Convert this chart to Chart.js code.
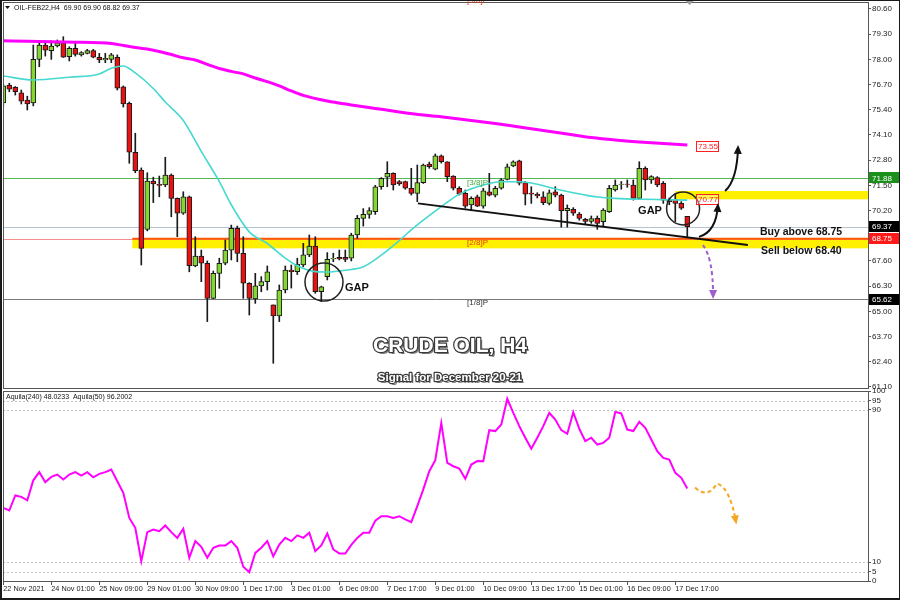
<!DOCTYPE html>
<html>
<head>
<meta charset="utf-8">
<script src="https://cdn.jsdelivr.net/npm/chart.js@4.4.1/dist/chart.umd.min.js"></script>
<style>
  body { margin: 0; background: #fff; }
  #wrap { position: relative; width: 900px; height: 600px; overflow: hidden; background: #fff; }
  #priceCanvas { position: absolute; left: 0; top: 0; }
  #oscCanvas { position: absolute; left: 0; top: 388px; }
  #frame { position: absolute; left: 0; top: 0; width: 900px; height: 600px; box-sizing: border-box;
           border: 2px solid #1a1a1a; border-top-width: 1px; border-right-width: 1px; pointer-events: none; }
</style>
</head>
<body>
<div id="wrap">
  <canvas id="priceCanvas" width="900" height="396"></canvas>
  <canvas id="oscCanvas" width="900" height="212"></canvas>
  <div id="frame"></div>
</div>
<script>
// bottom axis ticks (candle index -> label)
const tickIdx = [0, 8, 16, 24, 32, 40, 48, 56, 64, 72, 80, 88, 96, 104, 112];
const tickLabels = ["22 Nov 2021", "24 Nov 01:00", "25 Nov 09:00", "29 Nov 01:00", "30 Nov 09:00",
  "1 Dec 17:00", "3 Dec 01:00", "6 Dec 09:00", "7 Dec 17:00", "9 Dec 01:00", "10 Dec 09:00",
  "13 Dec 17:00", "15 Dec 01:00", "16 Dec 09:00", "17 Dec 17:00"];
const priceTicks = [61.1, 62.4, 63.7, 65.0, 66.3, 67.6, 68.9, 70.2, 71.5, 72.8, 74.1, 75.4, 76.7, 78.0, 79.3, 80.6];
const oscTicks = [0, 5, 10, 90, 95, 100];
const oscGrid = [5, 10, 90, 95];

// H4 candles
const opens = [75.75,76.68,76.56,76.28,75.90,75.75,78.00,78.74,78.45,78.69,
  78.86,78.14,78.57,78.23,78.31,78.45,78.11,77.97,78.00,78.11,
  76.59,75.73,73.21,72.29,69.23,71.72,71.55,71.52,72.03,70.83,
  70.06,70.91,67.34,67.85,67.48,65.67,66.96,67.48,68.16,69.28,
  67.99,66.45,65.64,66.31,66.53,65.33,64.76,66.10,67.13,67.05,
  67.39,67.91,68.37,66.01,66.79,67.70,67.78,67.78,67.74,68.94,
  69.80,70.00,70.14,71.43,71.92,72.12,71.69,71.69,71.35,71.09,
  71.64,72.60,72.33,73.02,72.72,71.98,71.35,71.09,70.49,70.91,
  70.43,71.17,71.00,71.35,71.81,72.50,72.77,71.64,71.10,71.05,
  70.91,70.57,71.17,71.00,70.19,70.26,70.02,69.75,69.64,69.80,
  69.63,70.14,71.26,71.55,71.57,71.52,70.83,72.38,71.78,71.90,
  71.61,70.74,70.78,70.57,69.90];
const highs = [76.70,76.77,76.60,76.42,76.10,78.74,78.86,78.96,78.96,79.00,
  79.17,78.65,78.91,78.40,78.52,78.52,78.31,78.31,78.31,78.23,
  76.63,75.80,74.19,72.40,72.15,71.92,71.98,72.95,72.09,70.85,
  71.17,70.95,68.85,68.16,67.60,67.08,67.74,68.68,69.45,69.40,
  68.85,66.48,66.96,66.79,67.34,65.33,66.36,67.34,67.39,67.74,
  68.51,68.94,68.85,66.30,68.03,68.00,68.16,68.16,69.03,69.95,
  70.30,70.35,71.50,71.90,72.72,72.15,71.75,71.72,72.38,72.55,
  72.60,72.70,73.12,73.07,72.72,72.00,71.43,71.26,70.91,71.00,
  71.35,72.12,71.45,71.85,72.60,72.77,72.80,71.70,71.43,71.12,
  71.17,71.26,71.43,71.05,70.49,70.35,70.10,69.80,69.92,69.92,
  70.30,71.50,71.78,71.70,71.78,71.78,72.72,72.46,72.00,71.95,
  71.70,70.85,71.09,70.66,69.90];
const lows = [75.60,76.33,76.16,75.70,75.39,75.60,77.62,78.17,78.00,78.64,
  78.10,77.92,78.17,78.17,78.28,78.08,77.83,77.83,77.83,76.42,
  75.54,72.64,72.15,67.39,69.15,70.61,70.91,71.43,69.88,68.85,
  70.00,67.04,67.30,66.53,64.47,65.65,66.19,67.40,67.65,67.56,
  65.67,64.81,65.41,66.01,66.10,62.32,64.47,65.95,66.20,66.90,
  67.30,67.82,65.93,65.50,66.62,67.56,67.65,67.56,67.60,68.77,
  69.40,69.80,70.00,71.30,71.43,71.26,71.50,71.30,71.00,70.66,
  71.60,72.38,72.30,72.65,71.69,71.26,71.00,70.32,70.19,70.40,
  70.32,70.95,70.90,71.30,71.78,72.46,71.52,70.49,70.57,70.85,
  70.50,70.49,70.90,69.34,69.34,69.95,69.70,69.50,69.54,69.23,
  69.40,70.10,71.20,71.30,71.40,70.74,70.83,71.26,71.60,71.43,
  70.57,70.50,69.63,70.26,68.82];
const closes = [76.63,76.46,76.33,75.85,75.70,78.00,78.74,78.48,78.69,78.86,
  78.11,78.57,78.26,78.35,78.45,78.11,77.97,78.06,78.23,76.51,
  75.70,73.21,72.26,68.25,71.72,71.57,71.50,72.03,70.83,70.06,
  70.91,67.35,67.85,67.48,65.67,66.96,67.48,68.16,69.28,67.99,
  66.45,65.67,66.31,66.53,67.04,64.76,66.10,67.13,67.05,67.44,
  67.91,68.37,66.01,66.27,67.68,67.74,67.70,67.68,68.94,69.80,
  70.00,70.20,71.43,71.86,72.12,71.52,71.57,71.35,71.09,71.64,
  72.55,72.46,73.02,72.72,71.95,71.35,71.05,70.43,70.83,70.43,
  71.22,71.00,71.35,71.78,72.46,72.72,71.61,71.05,71.05,70.95,
  70.61,71.12,71.00,70.19,70.32,70.06,69.80,69.64,69.78,69.54,
  70.23,71.35,71.52,71.57,71.55,70.83,72.38,71.78,71.95,71.52,
  70.74,70.66,70.57,70.32,69.37];

// moving averages (candle index, price)
const slowMaX = [0,4,8,12,16,18,20,22,24,26,28,30,32,34,36,38,40,42,44,46,48,50,
  54,58,62,66,70,74,78,82,86,90,94,98,102,106,110,114];
const slowMa = [78.96,78.94,78.91,78.89,78.86,78.82,78.72,78.61,78.54,78.41,78.25,78.08,77.97,77.74,
  77.53,77.38,77.25,77.04,76.85,76.63,76.37,76.14,75.85,75.65,75.47,75.29,75.13,75.00,74.85,
  74.69,74.51,74.33,74.15,73.97,73.84,73.74,73.66,73.58];
const fastMaX = [0,5,11,16,18,20,22,25,27,30,33,36,38,41,44,47,49,52,54,57,60,63,66,68,70,73,76,79,
  83,86,88,93,97,99,102,107,114];
const fastMa = [77.14,76.94,77.08,77.25,77.54,77.66,77.30,76.50,75.80,74.85,73.25,71.70,70.50,69.10,
  68.50,67.75,67.35,67.05,67.03,67.12,67.30,67.90,68.65,69.20,69.70,70.40,71.05,71.43,71.69,
  71.69,71.62,71.25,71.00,70.90,70.83,70.78,70.74];

// oscillator
const aquila = [38.5,37.1,45,44.3,42.5,53,57.3,52,54.8,56,53.4,56,57.3,55.5,57.3,54.6,56.4,57.3,58.7,52.5,
  46.4,33.2,28,10.4,25.7,27.1,26.2,29.2,25.7,22.7,27.5,12.2,21,18,12.2,17.5,18.7,18.7,21,17.5,
  7.5,4.6,14.8,17.5,21,13,19.2,22.7,21,24,22.7,25.4,15.7,18.7,25,16.6,14.5,14.5,19,
  22.7,25.4,25.4,31.8,34.1,34.1,33.2,34.1,32.4,31,39.4,48.2,57.8,63.6,83.2,62.2,60.4,59.2,53.8,
  61.3,63.1,63,79.4,78.9,82.4,95.9,88.5,81.5,75.4,69.6,75.4,81.5,88.5,85,79.4,77.5,88.8,80.1,
  73.6,75.4,71.8,72.7,75.4,89,88.2,79.7,78.9,83.8,80.6,74.5,68.3,64.8,63.9,56.9,54.3,48.7];

// levels and zones
const levelValues = [71.88, 69.37, 68.75, 65.62];
const zoneFrom = [21.5, 112];
const zoneLow = [68.25, 70.78];
const zoneHigh = [68.75, 71.21];

const FONT = '"Liberation Sans", Arial, sans-serif';
Chart.defaults.font.family = FONT;
Chart.defaults.font.size = 8;
Chart.defaults.color = '#222';
Chart.defaults.animation = false;

const X_MIN = -0.05, X_MAX = 144.12;
const GREEN = '#84d630', RED = '#e81212';

function noPad(s) { s.paddingTop = 0; s.paddingBottom = 0; s.paddingLeft = 0; s.paddingRight = 0; }

function arrowHead(ctx, fx, fy, tx, ty, color) {
  const a = Math.atan2(ty - fy, tx - fx);
  ctx.fillStyle = color;
  ctx.beginPath();
  ctx.moveTo(tx + Math.cos(a) * 3, ty + Math.sin(a) * 3);
  ctx.lineTo(tx - Math.cos(a) * 6 + Math.cos(a + Math.PI / 2) * 4, ty - Math.sin(a) * 6 + Math.sin(a + Math.PI / 2) * 4);
  ctx.lineTo(tx - Math.cos(a) * 6 - Math.cos(a + Math.PI / 2) * 4, ty - Math.sin(a) * 6 - Math.sin(a + Math.PI / 2) * 4);
  ctx.closePath();
  ctx.fill();
}

function curveArrow(ctx, p0, c, p1, color, dash, width) {
  ctx.strokeStyle = color;
  ctx.lineWidth = width;
  ctx.setLineDash(dash);
  ctx.beginPath();
  ctx.moveTo(p0[0], p0[1]);
  ctx.quadraticCurveTo(c[0], c[1], p1[0], p1[1]);
  ctx.stroke();
  ctx.setLineDash([]);
  arrowHead(ctx, c[0], c[1], p1[0], p1[1], color);
}

function embossText(ctx, text, cx, cy, font) {
  ctx.font = font;
  ctx.textAlign = 'center';
  ctx.textBaseline = 'middle';
  ctx.fillStyle = 'rgba(0,0,0,0.5)';
  ctx.fillText(text, cx + 2, cy + 2);
  ctx.lineJoin = 'round';
  ctx.lineWidth = 2.5;
  ctx.strokeStyle = '#3a3a3a';
  ctx.strokeText(text, cx, cy);
  ctx.fillStyle = '#fff';
  ctx.fillText(text, cx, cy);
}

function text(ctx, str, px, py, font, color, align) {
  ctx.font = font;
  ctx.fillStyle = color;
  ctx.textAlign = align || 'left';
  ctx.textBaseline = 'middle';
  ctx.fillText(str, px, py);
}

// price panel overlays
const priceOverlay = {
  id: 'priceOverlay',
  beforeDatasetsDraw(chart) {
    const { ctx, chartArea: a, scales: { x, y } } = chart;
    ctx.save();
    ctx.fillStyle = '#fff000';
    zoneFrom.forEach((k, i) => {
      const x0 = Math.max(x.getPixelForValue(k), a.left);
      const y0 = y.getPixelForValue(zoneHigh[i]), y1 = y.getPixelForValue(zoneLow[i]);
      ctx.fillRect(x0, y0, a.right - x0, y1 - y0);
    });
    const lineColors = ['#52b852', '#b9c3cf', '#f59090', '#7a7a7a'];
    levelValues.forEach((v, i) => {
      const py = Math.round(y.getPixelForValue(v)) + 0.5;
      ctx.strokeStyle = lineColors[i];
      ctx.lineWidth = 1;
      ctx.beginPath(); ctx.moveTo(a.left, py); ctx.lineTo(a.right, py); ctx.stroke();
    });
    // orange edge on the lower zone
    const zx = x.getPixelForValue(zoneFrom[0]);
    const zy = y.getPixelForValue(zoneHigh[0]);
    ctx.strokeStyle = '#ff5a00'; ctx.lineWidth = 2;
    ctx.beginPath(); ctx.moveTo(zx, zy); ctx.lineTo(a.right, zy); ctx.stroke();
    ctx.restore();
  },
  afterDraw(chart) {
    const { ctx, chartArea: a, scales: { x, y } } = chart;
    const X = k => x.getPixelForValue(k), Y = p => y.getPixelForValue(p);
    ctx.save();
    ctx.beginPath(); ctx.rect(0, 0, 900, 396); ctx.clip();

    // frame of the panel
    ctx.strokeStyle = '#555'; ctx.lineWidth = 1;
    ctx.strokeRect(a.left + 0.5, a.top + 0.5, a.right - a.left, a.bottom - a.top);

    // header
    ctx.fillStyle = '#111';
    ctx.beginPath(); ctx.moveTo(5, 6); ctx.lineTo(10, 6); ctx.lineTo(7.5, 9); ctx.closePath(); ctx.fill();
    text(ctx, 'OIL-FEB22,H4  69.90 69.90 68.82 69.37', 14, 8, '7px ' + FONT, '#111');

    // gray marker at top
    ctx.fillStyle = '#9a9a9a';
    ctx.beginPath(); ctx.moveTo(X(114.4) - 5, 0); ctx.lineTo(X(114.4) + 5, 0); ctx.lineTo(X(114.4), 5); ctx.closePath(); ctx.fill();

    // murrey labels
    text(ctx, '[5/8]P', X(77.3), Y(81.02), '8px ' + FONT, '#e03a10');
    text(ctx, '[3/8]P', X(77.3), Y(71.62), '8px ' + FONT, '#3aa83a');
    text(ctx, '[2/8]P', X(77.3), Y(68.55), '8px ' + FONT, '#e03a10');
    text(ctx, '[1/8]P', X(77.3), Y(65.45), '8px ' + FONT, '#333');

    // trend line
    ctx.strokeStyle = '#111'; ctx.lineWidth = 2;
    ctx.beginPath(); ctx.moveTo(X(69.1), Y(70.57)); ctx.lineTo(X(124.1), Y(68.42)); ctx.stroke();

    // gap circles
    ctx.strokeStyle = '#222'; ctx.lineWidth = 1.5;
    ctx.beginPath(); ctx.arc(X(53.45), Y(66.51), 19, 0, Math.PI * 2); ctx.stroke();
    ctx.beginPath(); ctx.arc(X(113.3), Y(70.31), 16.5, 0, Math.PI * 2); ctx.stroke();
    text(ctx, 'GAP', X(56.95), Y(66.2), 'bold 11px ' + FONT, '#111');
    text(ctx, 'GAP', X(105.8), Y(70.18), 'bold 11px ' + FONT, '#111');

    // MA end labels
    [[73.53, '73.55', '#fff'], [70.8, '70.77', 'rgba(255,255,255,0.35)']].forEach(([p, s, bg]) => {
      const bx = X(115.45), by = Y(p);
      ctx.fillStyle = bg; ctx.fillRect(bx, by - 5, 22, 10);
      ctx.strokeStyle = '#ff2020'; ctx.lineWidth = 1;
      ctx.strokeRect(bx + 0.5, Math.round(by - 5) + 0.5, 22, 10);
      text(ctx, s, bx + 2, by + 0.5, '8px ' + FONT, '#ff2020');
    });

    // arrows
    curveArrow(ctx, [X(115.95), Y(68.84)], [X(118.8), Y(69.1)], [X(119.1), Y(70.44)], '#111', [], 2);
    curveArrow(ctx, [X(120.3), Y(71.21)], [X(122.3), Y(71.78)], [X(122.45), Y(73.43)], '#111', [], 2);
    curveArrow(ctx, [X(116.6), Y(68.42)], [X(118.3), Y(67.75)], [X(118.3), Y(65.79)], '#9b5fd0', [4, 3], 2);

    // signal text
    text(ctx, 'Buy above 68.75', X(126.1), Y(69.09), 'bold 10.5px ' + FONT, '#111');
    text(ctx, 'Sell below 68.40', X(126.3), Y(68.11), 'bold 10.5px ' + FONT, '#111');

    // title
    embossText(ctx, 'CRUDE OIL, H4', 450, 346, 'bold 21px ' + FONT);
    embossText(ctx, 'Signal for December 20-21', 450, 378, 'bold 11.5px ' + FONT);

    // price boxes on the axis
    const boxColors = ['#1a8f1a', '#000', '#ff1a1a', '#000'];
    levelValues.forEach((v, i) => {
      const py = Y(v);
      ctx.fillStyle = boxColors[i];
      ctx.fillRect(a.right + 1, Math.round(py - 5.5), 30, 11);
      text(ctx, v.toFixed(2), a.right + 4, py + 0.5, '8px ' + FONT, '#fff');
    });
    ctx.restore();
  }
};

// oscillator overlays
const oscOverlay = {
  id: 'oscOverlay',
  beforeDatasetsDraw(chart) {
    const { ctx, chartArea: a, scales: { y } } = chart;
    ctx.save();
    ctx.strokeStyle = '#c4c4c4'; ctx.lineWidth = 1; ctx.setLineDash([2, 2]);
    oscGrid.forEach(v => {
      const py = Math.round(y.getPixelForValue(v)) + 0.5;
      ctx.beginPath(); ctx.moveTo(a.left, py); ctx.lineTo(a.right, py); ctx.stroke();
    });
    ctx.restore();
  },
  afterDraw(chart) {
    const { ctx, chartArea: a, scales: { x, y } } = chart;
    const X = k => x.getPixelForValue(k), Y = v => y.getPixelForValue(v);
    ctx.save();
    ctx.strokeStyle = '#555'; ctx.lineWidth = 1;
    ctx.strokeRect(a.left + 0.5, a.top + 0.5, a.right - a.left, a.bottom - a.top);
    text(ctx, 'Aquila(240) 48.0233  Aquila(50) 96.2002', 6, a.top + 6, '7px ' + FONT, '#111');

    // projected path
    ctx.strokeStyle = '#f5a623'; ctx.lineWidth = 2; ctx.setLineDash([4, 3]);
    ctx.beginPath();
    ctx.moveTo(X(115.3), Y(49.2));
    ctx.quadraticCurveTo(X(116.3), Y(46.1), X(117.3), Y(46.6));
    ctx.quadraticCurveTo(X(118.1), Y(47.1), X(118.95), Y(51.3));
    ctx.quadraticCurveTo(X(121.1), Y(49.2), X(122.1), Y(31.3));
    ctx.stroke();
    ctx.setLineDash([]);
    arrowHead(ctx, X(121.1), Y(49.2), X(122.1), Y(31.3), '#f5a623');
    ctx.restore();
  }
};

const wickData = lows.map((l, i) => ({ x: i, y: [l, highs[i]] }));
const bodyData = opens.map((o, i) => ({ x: i, y: [o, closes[i]] }));
const bodyColors = opens.map((o, i) => (closes[i] >= o ? GREEN : RED));

new Chart(document.getElementById('priceCanvas'), {
  type: 'bar',
  data: {
    datasets: [
      {
        type: 'line',
        data: slowMaX.map((k, i) => ({ x: k, y: slowMa[i] })),
        borderColor: '#ff00ff',
        borderWidth: 3,
        pointRadius: 0,
        cubicInterpolationMode: 'monotone',
        order: 0,
      },
      {
        type: 'line',
        data: fastMaX.map((k, i) => ({ x: k, y: fastMa[i] })),
        borderColor: '#45d9d0',
        borderWidth: 1.6,
        pointRadius: 0,
        cubicInterpolationMode: 'monotone',
        order: 1,
      },
      {
        data: bodyData,
        backgroundColor: bodyColors,
        borderColor: '#1a1a1a',
        borderWidth: 1,
        borderSkipped: false,
        barThickness: 5,
        grouped: false,
        order: 2,
      },
      {
        data: wickData,
        backgroundColor: '#1a1a1a',
        borderWidth: 0,
        barThickness: 1,
        grouped: false,
        order: 3,
      },
    ],
  },
  options: {
    responsive: false,
    events: [],
    layout: { padding: { left: 3, top: 2, right: 0, bottom: 8 } },
    plugins: { legend: { display: false }, tooltip: { enabled: false } },
    scales: {
      x: {
        type: 'linear',
        min: X_MIN,
        max: X_MAX,
        offset: false,
        display: false,
      },
      y: {
        position: 'right',
        min: 61.044,
        max: 80.961,
        afterBuildTicks: s => { s.ticks = priceTicks.map(v => ({ value: v })); },
        afterFit: s => { s.width = 32; noPad(s); },
        ticks: { callback: v => v.toFixed(2), padding: 1, autoSkip: false, color: '#222', font: { size: 8 } },
        grid: { drawOnChartArea: false, drawTicks: true, tickLength: 3, color: '#555' },
        border: { display: true, color: '#555' },
      },
    },
  },
  plugins: [priceOverlay],
});

new Chart(document.getElementById('oscCanvas'), {
  type: 'line',
  data: {
    datasets: [
      {
        data: aquila.map((v, i) => ({ x: i, y: v })),
        borderColor: '#ff00ff',
        borderWidth: 2,
        pointRadius: 0,
        tension: 0,
      },
    ],
  },
  options: {
    responsive: false,
    events: [],
    layout: { padding: { left: 3, top: 3, right: 0, bottom: 2 } },
    plugins: { legend: { display: false }, tooltip: { enabled: false } },
    scales: {
      x: {
        type: 'linear',
        min: X_MIN,
        max: X_MAX,
        offset: false,
        afterBuildTicks: s => { s.ticks = tickIdx.map(v => ({ value: v })); },
        afterFit: s => { s.height = 17; noPad(s); },
        ticks: {
          callback: (v, i) => tickLabels[i],
          align: 'start',
          autoSkip: false,
          maxRotation: 0,
          padding: 0,
          color: '#222',
          font: { size: 7.3 },
        },
        grid: { drawOnChartArea: false, drawTicks: true, tickLength: 4, color: '#555' },
        border: { display: true, color: '#555' },
      },
      y: {
        position: 'right',
        min: 0,
        max: 100,
        afterBuildTicks: s => { s.ticks = oscTicks.map(v => ({ value: v })); },
        afterFit: s => { s.width = 32; noPad(s); },
        ticks: { padding: 1, autoSkip: false, color: '#222', font: { size: 8 } },
        grid: { drawOnChartArea: false, drawTicks: true, tickLength: 3, color: '#555' },
        border: { display: true, color: '#555' },
      },
    },
  },
  plugins: [oscOverlay],
});
</script>
</body>
</html>
